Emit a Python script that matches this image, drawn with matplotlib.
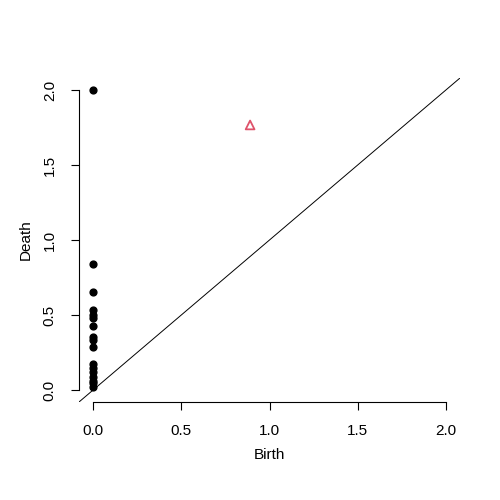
import matplotlib
matplotlib.use("Agg")
import matplotlib.pyplot as plt

plt.rcParams['font.family'] = ['Liberation Sans', 'DejaVu Sans']

# dimension 0 features (birth, death)
birth0 = [0.0] * 17
death0 = [2.0, 0.84, 0.653, 0.533, 0.5, 0.478, 0.429, 0.351, 0.333, 0.289,
          0.171, 0.144, 0.118, 0.089, 0.062, 0.044, 0.022]
# dimension 1 features
birth1 = [0.89]
death1 = [1.767]

ticks = [0.0, 0.5, 1.0, 1.5, 2.0]
tick_labels = ["0.0", "0.5", "1.0", "1.5", "2.0"]

fig = plt.figure(figsize=(5, 5), dpi=100)
ax = fig.add_axes([0.158, 0.196, 0.762, 0.648])

ax.plot([-0.08, 2.08], [-0.08, 2.08], color="black", lw=0.7)
ax.scatter(birth0, death0, s=24, color="black", zorder=3)
ax.scatter(birth1, death1, s=40, marker="^", facecolors="none",
           edgecolors="#DF536B", linewidths=1.3, zorder=3)

ax.set_xlim(-0.08, 2.08)
ax.set_ylim(-0.08, 2.08)
for s in ["top", "right"]:
    ax.spines[s].set_visible(False)
ax.spines["left"].set_bounds(0, 2)
ax.spines["bottom"].set_bounds(0, 2)
for s in ["left", "bottom"]:
    ax.spines[s].set_linewidth(0.8)

ax.set_xticks(ticks, tick_labels)
ax.set_yticks(ticks, tick_labels, rotation=90, va="center")
ax.tick_params(direction="out", length=6, width=0.8, labelsize=11, pad=10)
ax.set_xlabel("Birth", fontsize=11, labelpad=7)
ax.set_ylabel("Death", fontsize=11, labelpad=7)

fig.savefig("out.png")
